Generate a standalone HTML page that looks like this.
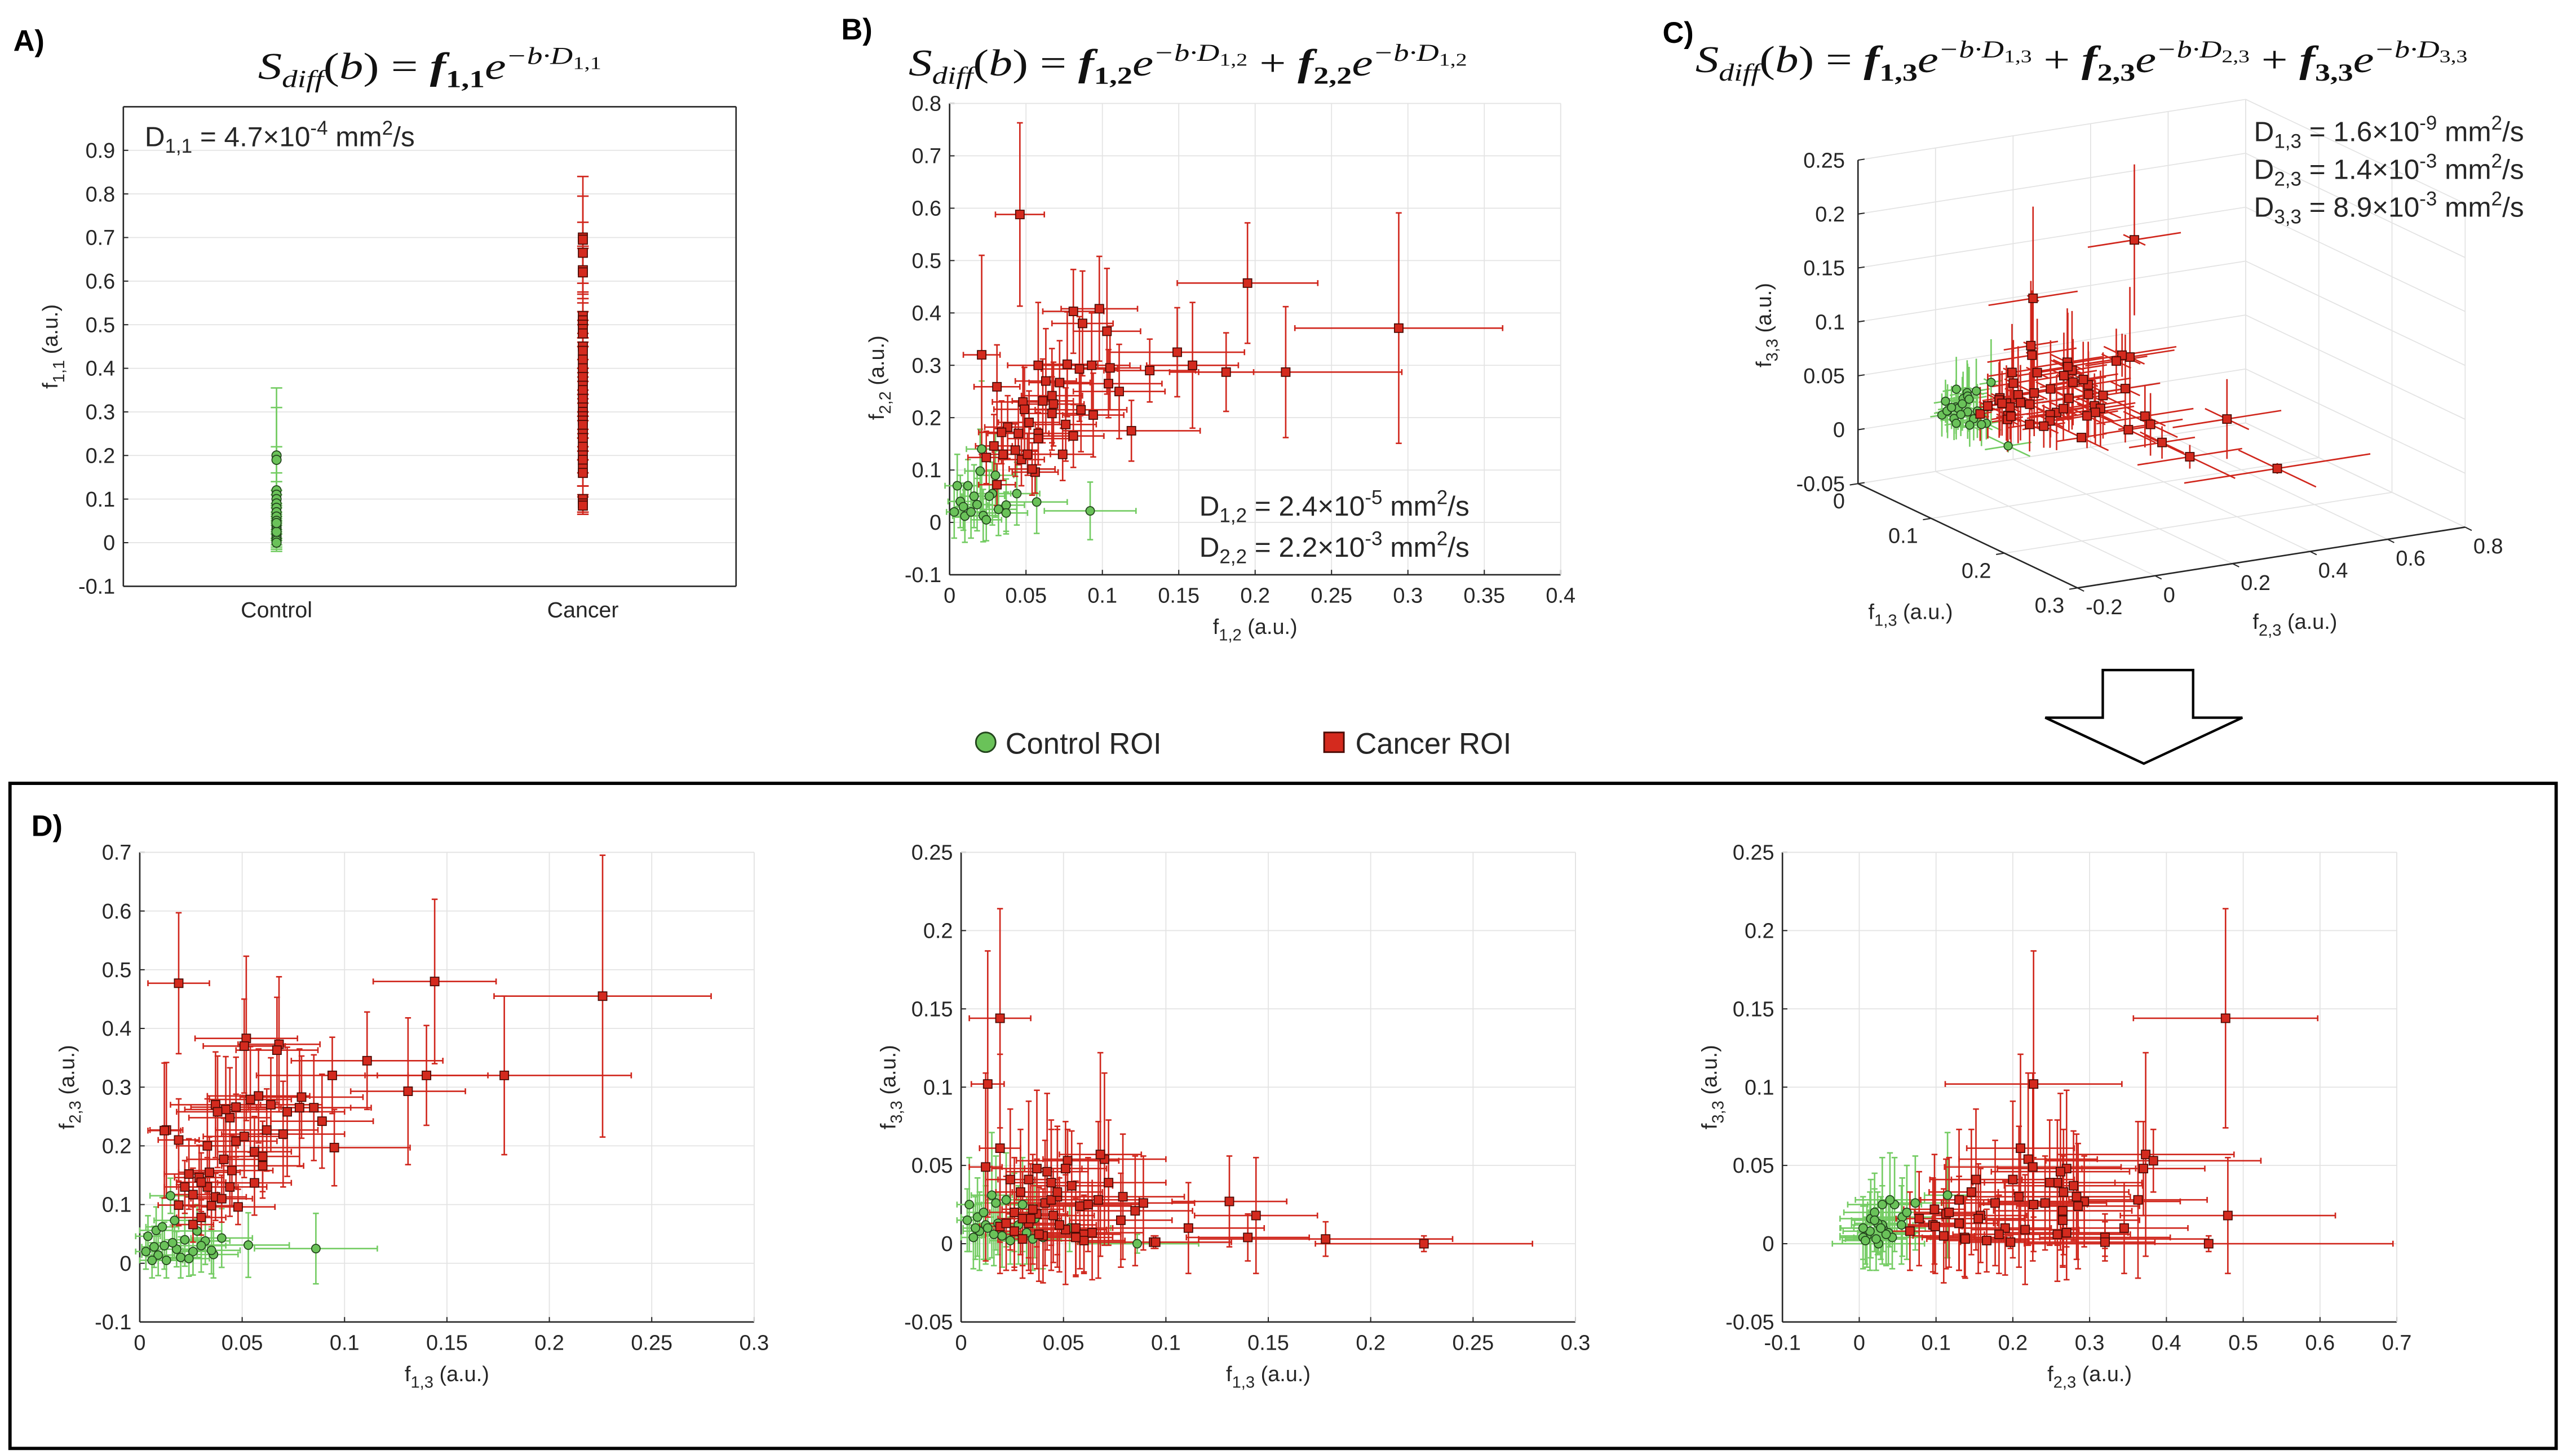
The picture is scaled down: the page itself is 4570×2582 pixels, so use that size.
<!DOCTYPE html>
<html><head><meta charset="utf-8"><style>
html,body{margin:0;padding:0;background:#fff;}
svg{display:block;}
text{font-family:"Liberation Sans",Arial,sans-serif;fill:#262626;}
.eq{font-family:"Liberation Serif","DejaVu Serif",serif;fill:#111;}
.lbl{font-weight:bold;fill:#000;}
</style></head><body>
<svg id="chart" xmlns="http://www.w3.org/2000/svg" width="4570" height="2582" viewBox="0 0 1568 886">
<rect x="0" y="0" width="1568" height="886" fill="#fff"/>
<text class="lbl" x="8" y="31" font-size="18">A)</text>
<text class="lbl" x="512" y="24" font-size="18">B)</text>
<text class="lbl" x="1012" y="26" font-size="18">C)</text>
<text class="lbl" x="19" y="509" font-size="18">D)</text>

<text class="eq" x="157" y="48" font-size="23" textLength="209" lengthAdjust="spacingAndGlyphs"><tspan font-style="italic">S</tspan><tspan font-style="italic" font-size="15" dy="5">diff</tspan><tspan dy="-5">(</tspan><tspan font-style="italic">b</tspan><tspan>) = </tspan><tspan font-weight="bold" font-style="italic">f</tspan><tspan font-weight="bold" font-size="15" dy="5">1,1</tspan><tspan font-style="italic" dy="-5">e</tspan><tspan font-style="italic" font-size="15" dy="-9">−b·D</tspan><tspan font-size="11" dy="3">1,1</tspan></text>

<text class="eq" x="553" y="46" font-size="23" textLength="340" lengthAdjust="spacingAndGlyphs"><tspan font-style="italic">S</tspan><tspan font-style="italic" font-size="15" dy="5">diff</tspan><tspan dy="-5">(</tspan><tspan font-style="italic">b</tspan><tspan>) = </tspan><tspan font-weight="bold" font-style="italic">f</tspan><tspan font-weight="bold" font-size="15" dy="5">1,2</tspan><tspan font-style="italic" dy="-5">e</tspan><tspan font-style="italic" font-size="15" dy="-9">−b·D</tspan><tspan font-size="11" dy="3">1,2</tspan><tspan dy="6"> + </tspan><tspan font-weight="bold" font-style="italic">f</tspan><tspan font-weight="bold" font-size="15" dy="5">2,2</tspan><tspan font-style="italic" dy="-5">e</tspan><tspan font-style="italic" font-size="15" dy="-9">−b·D</tspan><tspan font-size="11" dy="3">1,2</tspan></text>

<text class="eq" x="1032" y="44" font-size="23" textLength="470" lengthAdjust="spacingAndGlyphs"><tspan font-style="italic">S</tspan><tspan font-style="italic" font-size="15" dy="5">diff</tspan><tspan dy="-5">(</tspan><tspan font-style="italic">b</tspan><tspan>) = </tspan><tspan font-weight="bold" font-style="italic">f</tspan><tspan font-weight="bold" font-size="15" dy="5">1,3</tspan><tspan font-style="italic" dy="-5">e</tspan><tspan font-style="italic" font-size="15" dy="-9">−b·D</tspan><tspan font-size="11" dy="3">1,3</tspan><tspan dy="6"> + </tspan><tspan font-weight="bold" font-style="italic">f</tspan><tspan font-weight="bold" font-size="15" dy="5">2,3</tspan><tspan font-style="italic" dy="-5">e</tspan><tspan font-style="italic" font-size="15" dy="-9">−b·D</tspan><tspan font-size="11" dy="3">2,3</tspan><tspan dy="6"> + </tspan><tspan font-weight="bold" font-style="italic">f</tspan><tspan font-weight="bold" font-size="15" dy="5">3,3</tspan><tspan font-style="italic" dy="-5">e</tspan><tspan font-style="italic" font-size="15" dy="-9">−b·D</tspan><tspan font-size="11" dy="3">3,3</tspan></text>

<g id="pa"></g>
<g id="pb"></g>
<g id="pc"></g>
<g id="pd1"></g>
<g id="pd2"></g>
<g id="pd3"></g>

<text x="88" y="89" font-size="17" fill="#000">D<tspan font-size="12" dy="4">1,1</tspan><tspan dy="-4"> = 4.7×10</tspan><tspan font-size="12" dy="-7">-4</tspan><tspan dy="7"> mm</tspan><tspan font-size="12" dy="-7">2</tspan><tspan dy="7">/s</tspan></text>
<text x="730" y="314" font-size="17" fill="#000">D<tspan font-size="12" dy="4">1,2</tspan><tspan dy="-4"> = 2.4×10</tspan><tspan font-size="12" dy="-7">-5</tspan><tspan dy="7"> mm</tspan><tspan font-size="12" dy="-7">2</tspan><tspan dy="7">/s</tspan></text>
<text x="730" y="339" font-size="17" fill="#000">D<tspan font-size="12" dy="4">2,2</tspan><tspan dy="-4"> = 2.2×10</tspan><tspan font-size="12" dy="-7">-3</tspan><tspan dy="7"> mm</tspan><tspan font-size="12" dy="-7">2</tspan><tspan dy="7">/s</tspan></text>
<text x="1372" y="86" font-size="17" fill="#000">D<tspan font-size="12" dy="4">1,3</tspan><tspan dy="-4"> = 1.6×10</tspan><tspan font-size="12" dy="-7">-9</tspan><tspan dy="7"> mm</tspan><tspan font-size="12" dy="-7">2</tspan><tspan dy="7">/s</tspan></text>
<text x="1372" y="109" font-size="17" fill="#000">D<tspan font-size="12" dy="4">2,3</tspan><tspan dy="-4"> = 1.4×10</tspan><tspan font-size="12" dy="-7">-3</tspan><tspan dy="7"> mm</tspan><tspan font-size="12" dy="-7">2</tspan><tspan dy="7">/s</tspan></text>
<text x="1372" y="132" font-size="17" fill="#000">D<tspan font-size="12" dy="4">3,3</tspan><tspan dy="-4"> = 8.9×10</tspan><tspan font-size="12" dy="-7">-3</tspan><tspan dy="7"> mm</tspan><tspan font-size="12" dy="-7">2</tspan><tspan dy="7">/s</tspan></text>

<g>
<circle cx="600" cy="452" r="6" fill="#6ac259" stroke="#23451d" stroke-width="1"/>
<text x="612" y="459" font-size="18" fill="#000">Control ROI</text>
<rect x="806" y="446" width="12" height="12" fill="#d42a1e" stroke="#4a0b05" stroke-width="1"/>
<text x="825" y="459" font-size="18" fill="#000">Cancer ROI</text>
</g>
<polygon points="1280,408 1335,408 1335,437 1365,437 1305,465 1245,437 1280,437" fill="#fff" stroke="#000" stroke-width="1.5"/>
<rect x="6" y="477" width="1550" height="405" fill="none" stroke="#000" stroke-width="2"/>
</svg>
<script>
// ---------- Panel A data ----------
const aCategories = ['Control', 'Cancer'];
const aControlVals = [0.2,0.19,0.12,0.11,0.1,0.09,0.08,0.07,0.06,0.05,0.04,0.035,0.03,0.02,0.015,0.01,0.005,0.0,0.025,0.045];
const aControlErr  = [0.155,0.12,0.1,0.05,0.04,0.03,0.03,0.05,0.02,0.04,0.03,0.03,0.02,0.03,0.03,0.02,0.02,0.02,0.03,0.04];
const aCancerVals = [0.7,0.695,0.665,0.625,0.62,0.52,0.51,0.5,0.49,0.48,0.45,0.44,0.42,0.4,0.38,0.36,0.35,0.33,0.31,0.3,0.29,0.28,0.27,0.25,0.24,0.22,0.2,0.19,0.17,0.16,0.1,0.09,0.085];
const aCancerErr  = [0.14,0.1,0.07,0.05,0.06,0.05,0.04,0.03,0.04,0.03,0.05,0.04,0.04,0.05,0.04,0.03,0.05,0.04,0.03,0.04,0.05,0.04,0.03,0.04,0.05,0.03,0.04,0.03,0.04,0.03,0.03,0.02,0.02];
const aYTicks = [-0.1,0,0.1,0.2,0.3,0.4,0.5,0.6,0.7,0.8,0.9];

// ---------- Panel B data ----------
const bCancerF12 = [0.046,0.021,0.195,0.294,0.22,0.181,0.159,0.149,0.131,0.119,0.098,0.081,0.087,0.103,0.105,0.104,0.111,0.093,0.077,0.058,0.085,0.063,0.072,0.031,0.067,0.061,0.048,0.068,0.049,0.086,0.067,0.094,0.052,0.038,0.076,0.034,0.058,0.081,0.045,0.074,0.043,0.035,0.029,0.024,0.047,0.051,0.056,0.054,0.031,0.058];
const bCancerF22 = [0.588,0.32,0.457,0.371,0.287,0.287,0.3,0.325,0.29,0.175,0.408,0.403,0.38,0.365,0.295,0.265,0.25,0.3,0.302,0.3,0.293,0.27,0.267,0.259,0.242,0.232,0.23,0.226,0.216,0.215,0.208,0.205,0.191,0.182,0.187,0.172,0.17,0.165,0.17,0.13,0.138,0.13,0.146,0.124,0.12,0.13,0.096,0.102,0.072,0.16];
const bCancerE12 = [0.016,0.012,0.046,0.068,0.076,0.018,0.03,0.044,0.03,0.045,0.025,0.02,0.02,0.022,0.02,0.035,0.03,0.025,0.02,0.02,0.025,0.02,0.02,0.015,0.02,0.02,0.02,0.02,0.02,0.03,0.02,0.02,0.02,0.015,0.02,0.015,0.02,0.02,0.02,0.02,0.015,0.015,0.012,0.012,0.015,0.015,0.015,0.015,0.012,0.02];
const bCancerE22 = [0.175,0.19,0.115,0.22,0.125,0.075,0.12,0.085,0.06,0.058,0.1,0.08,0.1,0.12,0.08,0.065,0.09,0.1,0.1,0.12,0.1,0.1,0.08,0.08,0.09,0.08,0.07,0.08,0.08,0.08,0.07,0.08,0.06,0.06,0.07,0.06,0.06,0.06,0.06,0.05,0.05,0.05,0.06,0.05,0.05,0.04,0.04,0.05,0.04,0.05];
const bControlF12 = [0.092,0.057,0.021,0.02,0.005,0.012,0.028,0.018,0.037,0.037,0.01,0.022,0.014,0.007,0.026,0.003,0.016,0.032,0.044,0.009,0.03,0.024];
const bControlF22 = [0.022,0.039,0.14,0.098,0.07,0.07,0.055,0.034,0.033,0.018,0.012,0.013,0.02,0.04,0.05,0.02,0.05,0.025,0.055,0.03,0.09,0.005];
const bControlE12 = [0.03,0.02,0.01,0.01,0.008,0.008,0.012,0.01,0.012,0.014,0.008,0.01,0.008,0.008,0.01,0.005,0.008,0.012,0.015,0.006,0.012,0.01];
const bControlE22 = [0.055,0.06,0.13,0.08,0.06,0.05,0.06,0.05,0.05,0.04,0.05,0.05,0.05,0.05,0.05,0.05,0.06,0.05,0.06,0.045,0.08,0.04];
const bXTicks = [0,0.05,0.1,0.15,0.2,0.25,0.3,0.35,0.4];
const bYTicks = [-0.1,0,0.1,0.2,0.3,0.4,0.5,0.6,0.7,0.8];

// ---------- Three-compartment data (panels C and D) ----------
const cCancerF13 = [0.019,0.144,0.226,0.178,0.14,0.131,0.111,0.094,0.095,0.089,0.085,0.079,0.078,0.072,0.07,0.068,0.067,0.052,0.051,0.013,0.019,0.058,0.054,0.062,0.037,0.044,0.047,0.051,0.033,0.041,0.045,0.056,0.06,0.06,0.056,0.048,0.037,0.033,0.029,0.026,0.019,0.026,0.03,0.012,0.04,0.044,0.035,0.024,0.064,0.042,0.047,0.034,0.038,0.03,0.022];
const cCancerF23 = [0.477,0.48,0.455,0.32,0.32,0.293,0.345,0.32,0.197,0.242,0.265,0.283,0.265,0.258,0.22,0.373,0.363,0.383,0.37,0.227,0.21,0.285,0.279,0.227,0.27,0.248,0.208,0.216,0.2,0.177,0.158,0.19,0.182,0.166,0.137,0.096,0.113,0.13,0.146,0.117,0.099,0.066,0.078,0.226,0.11,0.13,0.098,0.152,0.27,0.262,0.266,0.155,0.258,0.138,0.13];
const cCancerF33 = [0.144,0.018,0.0,0.003,0.004,0.027,0.01,0.001,0.001,0.026,0.021,0.03,0.015,0.039,0.054,0.057,0.028,0.053,0.048,0.102,0.061,0.024,0.037,0.025,0.048,0.039,0.03,0.009,0.041,0.026,0.018,0.01,0.006,0.002,0.004,0.012,0.019,0.013,0.033,0.02,0.011,0.008,0.016,0.049,0.005,0.028,0.022,0.041,0.007,0.046,0.033,0.016,0.006,0.003,0.013];
const cCancerE13 = [0.015,0.03,0.053,0.062,0.03,0.028,0.037,0.037,0.037,0.025,0.028,0.03,0.025,0.028,0.03,0.02,0.02,0.025,0.02,0.008,0.01,0.025,0.02,0.025,0.022,0.02,0.02,0.02,0.015,0.018,0.02,0.018,0.018,0.02,0.018,0.018,0.015,0.015,0.012,0.012,0.01,0.01,0.012,0.008,0.015,0.018,0.015,0.012,0.025,0.02,0.022,0.015,0.02,0.012,0.01];
const cCancerE23 = [0.12,0.14,0.24,0.135,0.085,0.125,0.083,0.065,0.065,0.08,0.09,0.07,0.1,0.11,0.09,0.115,0.09,0.14,0.08,0.115,0.07,0.08,0.09,0.07,0.09,0.085,0.08,0.07,0.08,0.07,0.06,0.06,0.06,0.055,0.055,0.03,0.04,0.05,0.055,0.045,0.035,0.03,0.03,0.115,0.04,0.05,0.04,0.06,0.08,0.09,0.085,0.06,0.095,0.05,0.045];
const cCancerE33 = [0.07,0.037,0.005,0.011,0.015,0.029,0.029,0.004,0.004,0.03,0.035,0.04,0.03,0.04,0.055,0.065,0.05,0.02,0.03,0.085,0.06,0.04,0.035,0.03,0.05,0.04,0.045,0.035,0.05,0.04,0.03,0.03,0.025,0.02,0.025,0.03,0.035,0.03,0.04,0.035,0.03,0.025,0.03,0.06,0.03,0.045,0.035,0.045,0.03,0.05,0.04,0.035,0.03,0.025,0.03];
const cControlF13 = [0.086,0.053,0.015,0.017,0.008,0.004,0.012,0.02,0.036,0.032,0.04,0.018,0.009,0.006,0.026,0.013,0.022,0.003,0.028,0.011,0.035,0.016,0.024,0.007,0.03];
const cControlF23 = [0.025,0.031,0.115,0.073,0.056,0.046,0.03,0.01,0.015,0.038,0.043,0.024,0.014,0.005,0.02,0.005,0.04,0.02,0.055,0.062,0.022,0.035,0.008,0.028,0.03];
const cControlF33 = [0.0,0.01,0.031,0.026,0.017,0.025,0.012,0.005,0.016,0.007,0.004,0.013,0.008,0.004,0.02,0.01,0.028,0.015,0.012,0.02,0.003,0.006,0.002,0.01,0.025];
const cControlE13 = [0.03,0.02,0.01,0.01,0.008,0.006,0.008,0.01,0.012,0.012,0.015,0.01,0.008,0.006,0.01,0.008,0.01,0.005,0.012,0.008,0.014,0.008,0.01,0.006,0.012];
const cControlE23 = [0.06,0.055,0.03,0.035,0.04,0.035,0.04,0.035,0.04,0.04,0.05,0.03,0.035,0.03,0.04,0.03,0.045,0.03,0.045,0.05,0.04,0.03,0.03,0.035,0.045];
const cControlE33 = [0.006,0.015,0.04,0.03,0.025,0.03,0.025,0.02,0.025,0.02,0.02,0.02,0.025,0.02,0.025,0.02,0.03,0.02,0.025,0.03,0.02,0.02,0.015,0.02,0.03];
const f13Ticks = [0,0.05,0.1,0.15,0.2,0.25,0.3];
const f23Ticks = [-0.1,0,0.1,0.2,0.3,0.4,0.5,0.6,0.7];
const f23TicksD1 = [-0.1,0,0.1,0.2,0.3,0.4,0.5,0.6,0.7];
const f33Ticks = [-0.05,0,0.05,0.1,0.15,0.2,0.25];
const c3dF13Ticks = [0,0.1,0.2,0.3];
const c3dF23Ticks = [-0.2,0,0.2,0.4,0.6,0.8];

const NS = 'http://www.w3.org/2000/svg';
const RED_ERR = '#d0261c', RED_FILL = '#d42a1e', RED_EDGE = '#4a0b05';
const GRN_ERR = '#74cc63', GRN_FILL = '#6ac259', GRN_EDGE = '#23451d';
const GRID = '#e3e3e3', AXIS = '#262626';

function mk(tag, parent) { const e = document.createElementNS(NS, tag); parent.appendChild(e); return e; }
function lin(d0, d1, r0, r1) { return v => r0 + (v - d0) / (d1 - d0) * (r1 - r0); }
function line(p, x1, y1, x2, y2, col, w) {
  const l = mk('line', p);
  l.setAttribute('x1', x1); l.setAttribute('y1', y1); l.setAttribute('x2', x2); l.setAttribute('y2', y2);
  l.setAttribute('stroke', col); l.setAttribute('stroke-width', w);
  return l;
}
function txt(p, x, y, s, size, anchor) {
  const t = mk('text', p);
  t.setAttribute('x', x); t.setAttribute('y', y); t.setAttribute('font-size', size);
  t.setAttribute('text-anchor', anchor || 'middle');
  t.textContent = s;
  return t;
}
function subLabel(p, x, y, main, sub, rest, rotate) {
  const t = mk('text', p);
  t.setAttribute('x', x); t.setAttribute('y', y); t.setAttribute('font-size', 13);
  t.setAttribute('text-anchor', 'middle');
  if (rotate) t.setAttribute('transform', 'rotate(-90 ' + x + ' ' + y + ')');
  const a = mk('tspan', t); a.textContent = main;
  const b = mk('tspan', t); b.setAttribute('font-size', 10); b.setAttribute('dy', 4); b.textContent = sub;
  const c = mk('tspan', t); c.setAttribute('dy', -4); c.textContent = ' ' + rest;
  return t;
}

function axes2d(g, sx, sy, xl, yl, xticks, yticks, box, xgrid) {
  const x0 = sx(xl[0]), x1 = sx(xl[1]), y0 = sy(yl[0]), y1 = sy(yl[1]);
  yticks.forEach(v => {
    const gl = line(g, x0, sy(v), x1, sy(v), GRID, 0.6);
    
    
    const tk = line(g, x0, sy(v), x0 + 3, sy(v), AXIS, 0.7);
    
    
    const t = txt(g, x0 - 5, sy(v) + 4.5, String(v), 13, 'end');
    
    
  });
  if (xgrid) xticks.forEach(v => {
    const gl = line(g, sx(v), y0, sx(v), y1, GRID, 0.6);
    
    
    const tk = line(g, sx(v), y0, sx(v), y0 - 3, AXIS, 0.7);
    
    
    const t = txt(g, sx(v), y0 + 17, String(v), 13, 'middle');
    
    
  });
  const ax = line(g, x0, y0, x0, y1, AXIS, 0.9);
  
  
  const bx = line(g, x0, y0, x1, y0, AXIS, 0.9);
  
  
  if (box) {
    const r = line(g, x1, y0, x1, y1, AXIS, 0.9);
    
    
    const tp = line(g, x0, y1, x1, y1, AXIS, 0.9);
    
    
  } else {
    line(g, x1, y0, x1, y1, GRID, 0.6);
    line(g, x0, y1, x1, y1, GRID, 0.6);
  }
}

function errBar(g, px, py, xlo, xhi, ylo, yhi, col, cap) {
  if (ylo !== null) {
    line(g, px, ylo, px, yhi, col, 0.9);
    line(g, px - cap, ylo, px + cap, ylo, col, 0.9);
    line(g, px - cap, yhi, px + cap, yhi, col, 0.9);
  }
  if (xlo !== null) {
    line(g, xlo, py, xhi, py, col, 0.9);
    line(g, xlo, py - cap, xlo, py + cap, col, 0.9);
    line(g, xhi, py - cap, xhi, py + cap, col, 0.9);
  }
}
function sq(g, x, y, s) {
  const r = mk('rect', g);
  r.setAttribute('x', x - s / 2); r.setAttribute('y', y - s / 2); r.setAttribute('width', s); r.setAttribute('height', s);
  r.setAttribute('fill', RED_FILL); r.setAttribute('stroke', RED_EDGE); r.setAttribute('stroke-width', 0.6);
  return r;
}
function circ(g, x, y, rad) {
  const c = mk('circle', g);
  c.setAttribute('cx', x); c.setAttribute('cy', y); c.setAttribute('r', rad);
  c.setAttribute('fill', GRN_FILL); c.setAttribute('stroke', GRN_EDGE); c.setAttribute('stroke-width', 0.6);
  return c;
}

function scatter2d(g, sx, sy, gx, gy, gex, gey, rx, ry, rex, rey) {
  const ge = mk('g', g);
  
  
  gx.forEach((v, i) => errBar(ge, sx(v), sy(gy[i]), sx(v - gex[i]), sx(v + gex[i]), sy(gy[i] - gey[i]), sy(gy[i] + gey[i]), GRN_ERR, 1.8));
  const re = mk('g', g);
  
  
  rx.forEach((v, i) => errBar(re, sx(v), sy(ry[i]), sx(v - rex[i]), sx(v + rex[i]), sy(ry[i] - rey[i]), sy(ry[i] + rey[i]), RED_ERR, 1.8));
  gx.forEach((v, i) => {
    const c = circ(g, sx(v), sy(gy[i]), 2.6);
    
    
  });
  rx.forEach((v, i) => {
    const r = sq(g, sx(v), sy(ry[i]), 5.2);
    
    
  });
}

// ---------- Panel A ----------
(function () {
  const g = document.getElementById('pa');
  const sx = lin(0.5, 2.5, 75, 448), sy = lin(-0.1, 1.0, 357, 65);
  axes2d(g, sx, sy, [0.5, 2.5], [-0.1, 1.0], [], aYTicks, true, false);
  aCategories.forEach((c, i) => {
    const t = txt(g, sx(i + 1), sy(-0.1) + 19, c, 13.5, 'middle');
    
    
  });
  const yl = subLabel(g, 35, 211, 'f', '1,1', '(a.u.)', true);
  
  
  const xc = sx(1), xk = sx(2);
  aControlVals.forEach((v, i) => errBar(g, xc, sy(v), null, null, sy(v - aControlErr[i]), sy(v + aControlErr[i]), GRN_ERR, 3.5));
  aCancerVals.forEach((v, i) => errBar(g, xk, sy(v), null, null, sy(v - aCancerErr[i]), sy(v + aCancerErr[i]), RED_ERR, 3.5));
  aControlVals.forEach(v => {
    const c = circ(g, xc, sy(v), 2.8);
    
    
  });
  aCancerVals.forEach(v => {
    const r = sq(g, xk, sy(v), 5.5);
    
    
  });
})();

// ---------- Panel B ----------
(function () {
  const g = document.getElementById('pb');
  const sx = lin(0, 0.4, 578, 950), sy = lin(-0.1, 0.8, 350, 63);
  axes2d(g, sx, sy, [0, 0.4], [-0.1, 0.8], bXTicks, bYTicks, false, true);
  const xl = subLabel(g, 764, 386, 'f', '1,2', '(a.u.)', false);
  
  
  const yl = subLabel(g, 538, 230, 'f', '2,2', '(a.u.)', true);
  
  
  scatter2d(g, sx, sy, bControlF12, bControlF22, bControlE12, bControlE22, bCancerF12, bCancerF22, bCancerE12, bCancerE22);
})();

// ---------- Panel D ----------
(function () {
  const specs = [
    {id: 'pd1', x0: 85, xl: [0, 0.3], yl: [-0.1, 0.7], xt: f13Ticks, yt: f23TicksD1, xs: ['1,3'], ys: '2,3',
     gx: cControlF13, gy: cControlF23, gex: cControlE13, gey: cControlE23, rx: cCancerF13, ry: cCancerF23, rex: cCancerE13, rey: cCancerE23},
    {id: 'pd2', x0: 585, xl: [0, 0.3], yl: [-0.05, 0.25], xt: f13Ticks, yt: f33Ticks, xs: ['1,3'], ys: '3,3',
     gx: cControlF13, gy: cControlF33, gex: cControlE13, gey: cControlE33, rx: cCancerF13, ry: cCancerF33, rex: cCancerE13, rey: cCancerE33},
    {id: 'pd3', x0: 1085, xl: [-0.1, 0.7], yl: [-0.05, 0.25], xt: f23Ticks, yt: f33Ticks, xs: ['2,3'], ys: '3,3',
     gx: cControlF23, gy: cControlF33, gex: cControlE23, gey: cControlE33, rx: cCancerF23, ry: cCancerF33, rex: cCancerE23, rey: cCancerE33}
  ];
  specs.forEach(s => {
    const g = document.getElementById(s.id);
    const sx = lin(s.xl[0], s.xl[1], s.x0, s.x0 + 374), sy = lin(s.yl[0], s.yl[1], 805, 519);
    axes2d(g, sx, sy, s.xl, s.yl, s.xt, s.yt, false, true);
    const xl = subLabel(g, s.x0 + 187, 841, 'f', s.xs[0], '(a.u.)', false);
    
    
    const yl = subLabel(g, s.x0 - 40, 662, 'f', s.ys, '(a.u.)', true);
    
    
    scatter2d(g, sx, sy, s.gx, s.gy, s.gex, s.gey, s.rx, s.ry, s.rex, s.rey);
  });
})();

// ---------- Panel C (3D) ----------
(function () {
  const g = document.getElementById('pc');
  const O = [1131, 294.5], V13 = [133.6 / 0.3, 63.5 / 0.3], V23 = [236, -37], V33 = [0, -197 / 0.3];
  function P(a, b, c) {
    return [O[0] + a * V13[0] + (b + 0.2) * V23[0] + (c + 0.05) * V33[0],
            O[1] + a * V13[1] + (b + 0.2) * V23[1] + (c + 0.05) * V33[1]];
  }
  function L(p, q, col, w) { return line(g, p[0], p[1], q[0], q[1], col, w); }
  f33Ticks.forEach(z => L(P(0, -0.2, z), P(0, 0.8, z), GRID, 0.6));
  c3dF23Ticks.forEach(b => L(P(0, b, -0.05), P(0, b, 0.25), GRID, 0.6));
  f33Ticks.forEach(z => L(P(0, 0.8, z), P(0.3, 0.8, z), GRID, 0.6));
  c3dF13Ticks.forEach(a => L(P(a, 0.8, -0.05), P(a, 0.8, 0.25), GRID, 0.6));
  c3dF13Ticks.forEach(a => L(P(a, -0.2, -0.05), P(a, 0.8, -0.05), GRID, 0.6));
  c3dF23Ticks.forEach(b => L(P(0, b, -0.05), P(0.3, b, -0.05), GRID, 0.6));
  const za = L(P(0, -0.2, -0.05), P(0, -0.2, 0.25), AXIS, 0.9);
  
  
  const xa = L(P(0, -0.2, -0.05), P(0.3, -0.2, -0.05), AXIS, 0.9);
  
  
  const ya = L(P(0.3, -0.2, -0.05), P(0.3, 0.8, -0.05), AXIS, 0.9);
  
  
  f33Ticks.forEach(z => {
    const p = P(0, -0.2, z);
    L(p, [p[0] + 4, p[1] - 0.6], AXIS, 0.7);
    const t = txt(g, p[0] - 8, p[1] + 4.5, String(z), 13, 'end');
    
    
  });
  c3dF13Ticks.forEach(a => {
    const p = P(a, -0.2, -0.05);
    L(p, [p[0] - 5, p[1] + 0.8], AXIS, 0.7);
    const t = txt(g, p[0] - 8, p[1] + 15, String(a), 13, 'end');
    
    
  });
  c3dF23Ticks.forEach(b => {
    const p = P(0.3, b, -0.05);
    L(p, [p[0] + 4, p[1] + 2], AXIS, 0.7);
    const t = txt(g, p[0] + 5, p[1] + 16, String(b), 13, 'start');
    
    
  });
  const l1 = subLabel(g, 1163, 377, 'f', '1,3', '(a.u.)', false);
  
  
  const l2 = subLabel(g, 1397, 383, 'f', '2,3', '(a.u.)', false);
  
  
  const l3 = subLabel(g, 1078, 198, 'f', '3,3', '(a.u.)', true);
  
  
  function bars(A, B, C, EA, EB, EC, col) {
    A.forEach((a, i) => {
      L(P(a - EA[i], B[i], C[i]), P(a + EA[i], B[i], C[i]), col, 0.9);
      L(P(a, B[i] - EB[i], C[i]), P(a, B[i] + EB[i], C[i]), col, 0.9);
      L(P(a, B[i], C[i] - EC[i]), P(a, B[i], C[i] + EC[i]), col, 0.9);
    });
  }
  bars(cControlF13, cControlF23, cControlF33, cControlE13, cControlE23, cControlE33, GRN_ERR);
  bars(cCancerF13, cCancerF23, cCancerF33, cCancerE13, cCancerE23, cCancerE33, RED_ERR);
  cControlF13.forEach((a, i) => {
    const p = P(a, cControlF23[i], cControlF33[i]);
    const c = circ(g, p[0], p[1], 2.5);
    
    
  });
  cCancerF13.forEach((a, i) => {
    const p = P(a, cCancerF23[i], cCancerF33[i]);
    const r = sq(g, p[0], p[1], 5.2);
    
    
  });
})();
</script>
</body></html>
